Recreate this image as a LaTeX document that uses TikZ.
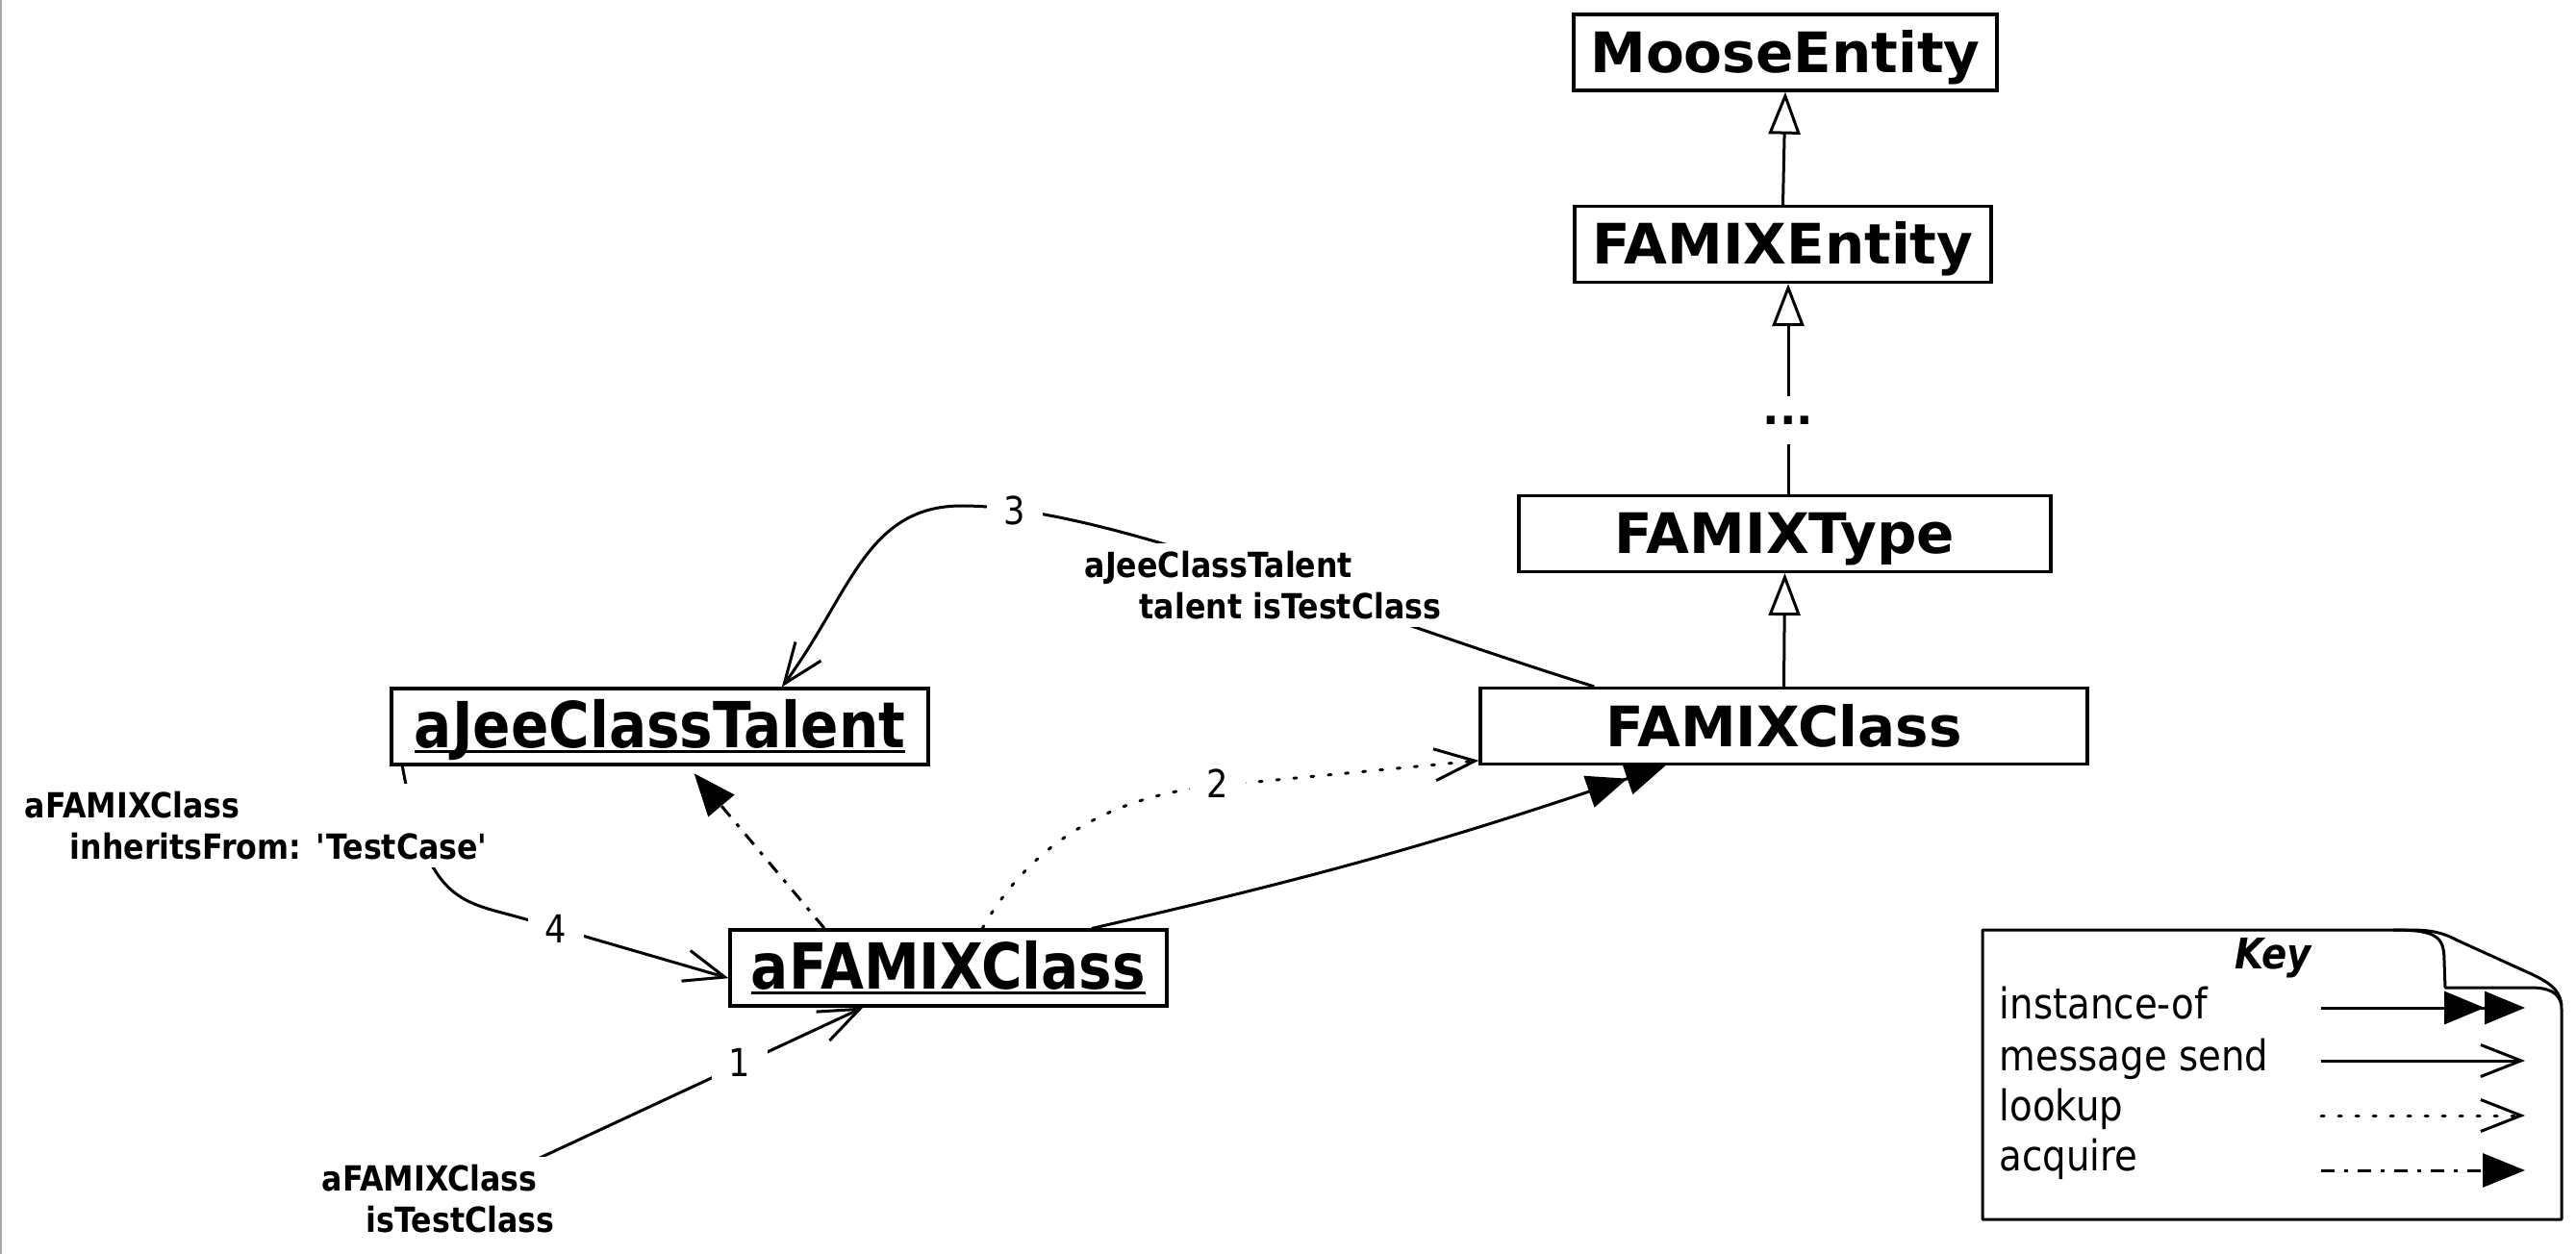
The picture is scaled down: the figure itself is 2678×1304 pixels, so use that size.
\documentclass[tikz,border=0pt]{standalone}
\usepackage{fontspec}
\setmainfont{DejaVu Sans}[FakeStretch=0.88]
\newfontfamily\widefont{DejaVu Sans}
\usetikzlibrary{arrows.meta,calc}
\newsavebox\ulbox
\newcommand\myul[1]{\sbox\ulbox{#1}\rlap{\rule[-1.45pt]{\wd\ulbox}{0.75pt}}\usebox\ulbox}
\newcommand\twoline[3]{\vtop{\baselineskip=10.75pt\hbox{#1}\hbox{\hspace{#3}#2}}}
\begin{document}
\begin{tikzpicture}[x=0.25pt,y=-0.25pt,
  cls/.style={draw,line width=0.8pt,inner sep=0pt,minimum height=19.75pt,text height=11pt,text depth=0.5pt,font=\widefont\bfseries\fontsize{14.5}{17}\selectfont},
  obj/.style={draw,line width=0.8pt,inner sep=0pt,minimum height=19.75pt,text height=12.5pt,text depth=1.75pt,font=\bfseries\fontsize{16.5}{19}\selectfont},
  lbl/.style={font=\bfseries\fontsize{9}{10.75}\selectfont,fill=white,inner sep=2pt,anchor=base west},
  num/.style={font=\fontsize{10}{12}\selectfont,fill=white,inner sep=4.5pt},
  ln/.style={line width=0.75pt},
  gen/.style={ln,-{Triangle[open,length=11pt,width=8.25pt]}},
  msg/.style={ln,-{Straight Barb[length=10.5pt,width=8.25pt]}},
  inst/.style={ln,-{Triangle[length=10.5pt,width=8.5pt]Triangle[length=10.5pt,width=8.5pt]}},
  look/.style={msg,line cap=round,dash pattern=on 0.75pt off 3.75pt},
  acq/.style={ln,dash pattern=on 3.5pt off 2.5pt on 1pt off 2.5pt,-{Triangle[length=11pt,width=8.75pt]}},
  keytext/.style={font=\fontsize{11}{13}\selectfont,inner sep=0pt,anchor=base west}
]
\useasboundingbox (0,0) rectangle (2678,1304);
\draw[gray!70,line width=0.4pt] (1,0) -- (1,1304);

% class nodes
\node[cls,minimum width=110pt] (me) at (1856,54.5) {MooseEntity};
\node[cls,minimum width=108.25pt] (fe) at (1853.5,254) {FAMIXEntity};
\node[font=\widefont\bfseries\fontsize{11.5}{13}\selectfont,inner xsep=0pt,inner ysep=5pt] (dots) at (1859,437) {...};
\node[cls,minimum width=138.25pt] (fty) at (1855.5,555) {FAMIXType};
\node[cls,minimum width=157.75pt] (fc) at (1854.5,755) {FAMIXClass};
\node[obj,minimum width=139.5pt] (jt) at (686,755.5) {\myul{aJeeClassTalent}};
\node[obj,minimum width=113.5pt] (af) at (986,1006.5) {\myul{aFAMIXClass}};

% hierarchy
\draw[gen] (fe.north) -- (me.south);
\draw[gen] (dots.north) -- (dots.north |- fe.south);
\draw[ln] (fty.north -| dots.south) -- (dots.south);
\draw[gen] (fc.north) -- (fty.south);

% instance-of
\draw[inst] ($(af.north west)!0.826!(af.north east)$) to[bend right=3] ($(fc.south west)!0.306!(fc.south east)$);
% acquire
\draw[acq,shorten >=2.5pt] ($(af.north west)!0.218!(af.north east)$) -- ($(jt.south west)!0.552!(jt.south east)$);
% lookup
\draw[look] ($(af.north west)!0.577!(af.north east)$) .. controls (1070,880) and (1150,828) .. (1264,817) -- ($(fc.north west)!0.936!(fc.south west)$);
% message 1
\coordinate (m1s) at (557,1206);
\draw[msg] (m1s) -- ($(af.south west)!0.306!(af.south east)$);
% message 3
\draw[msg] ($(fc.north west)!0.189!(fc.north east)$) .. controls (1410,637.5) and (1150,526) .. (1000,526) .. controls (900,526) and (884.5,617.4) .. ($(jt.north west)!0.726!(jt.north east)$);
% message 4
\draw[msg] ($(jt.south west)!0.023!(jt.south east)$) .. controls (444.6,942.9) and (479.8,936.4) .. (547,956) -- ($(af.north west)!0.63!(af.south west)$);

% labels
\node[lbl] (l4) at (17,850) {\twoline{aFAMIXClass}{inheritsFrom: \textquotesingle TestCase\textquotesingle}{11.75pt}};
\node[lbl] (l3) at (1119,600) {\twoline{aJeeClassTalent}{talent isTestClass}{14.25pt}};
\node[lbl] (l1) at (326,1238) {\twoline{aFAMIXClass}{isTestClass}{11.5pt}};
\node[num] (n1) at (769,1105) {1};
\node[num] (n2) at (1266,815) {2};
\node[num] (n3) at (1055,531) {3};
\node[num] (n4) at (578,966) {4};

% key
\draw[line width=0.75pt,line join=round] (2061,967) -- (2505,967) .. controls (2528,967) and (2540,970) .. (2555,978) -- (2632,1013) .. controls (2655,1024) and (2663,1032) .. (2663,1050) -- (2663,1268) -- (2061,1268) -- cycle;
\draw[line width=0.75pt,line join=round] (2488,967) .. controls (2535,967) and (2541,975) .. (2541,1000) -- (2542,1027) -- (2630,1027) .. controls (2650,1027) and (2660,1032) .. (2663,1045);
\node[font=\bfseries\itshape\fontsize{11}{13}\selectfont,anchor=base,inner sep=0pt] (keyt) at (2363,1007) {Key};
\node[keytext] (k1) at (2078,1059) {instance-of};
\node[keytext] (k2) at (2078,1113) {message send};
\node[keytext] (k3) at (2078,1165) {lookup};
\node[keytext] (k4) at (2078,1217) {acquire};
\coordinate (k1a) at (2413,1048); \coordinate (k1b) at (2625,1048);
\coordinate (k2a) at (2413,1103); \coordinate (k2b) at (2625,1103);
\coordinate (k3a) at (2413,1160); \coordinate (k3b) at (2625,1160);
\coordinate (k4a) at (2413,1217); \coordinate (k4b) at (2625,1217);
\draw[inst] (k1a) -- (k1b);
\draw[msg] (k2a) -- (k2b);
\draw[look] (k3a) -- (k3b);
\draw[acq] (k4a) -- (k4b);
\end{tikzpicture}
\end{document}
